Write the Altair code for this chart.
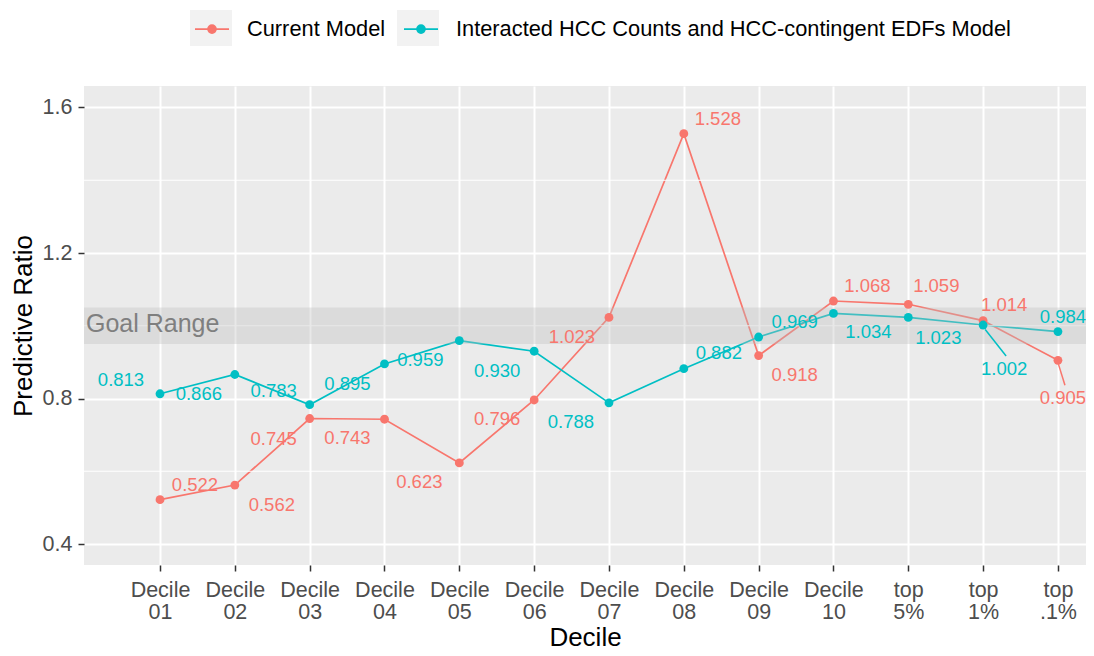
import json
import altair as alt
import pandas as pd

# ---------------- data ----------------
categories = ["Decile\n01", "Decile\n02", "Decile\n03", "Decile\n04", "Decile\n05",
              "Decile\n06", "Decile\n07", "Decile\n08", "Decile\n09", "Decile\n10",
              "top\n5%", "top\n1%", "top\n.1%"]
series_names = ["Current Model", "Interacted HCC Counts and HCC-contingent EDFs Model"]
current_values = [0.522, 0.562, 0.745, 0.743, 0.623, 0.796, 1.023, 1.528, 0.918,
                  1.068, 1.059, 1.014, 0.905]
interacted_values = [0.813, 0.866, 0.783, 0.895, 0.959, 0.930, 0.788, 0.882, 0.969,
                     1.034, 1.023, 1.002, 0.984]
y_breaks = [0.4, 0.8, 1.2, 1.6]
y_minor = [0.6, 1.0, 1.4]
goal_range = [0.95, 1.05]
goal_label = "Goal Range"

# label placement (pixel nudges, imitating ggrepel)
current_nudge = [(35, -15), (37, 20), (-36, 20), (-37, 19), (-40, 19), (-37, 19), (-37, 20),
                 (34, -15), (36, 19), (34, -15), (28, -18), (21, -16), (5, 38)]
interacted_nudge = [(-39, -14), (-36, 20), (-36, -14), (-37, 20), (-39, 19), (-37, 20), (-38, 19),
                    (35, -16), (36, -15), (35, 19), (30, 21), (21, 44), (5, -15)]

# ---------------- layout ----------------
W, H = 1002, 479
X_MIN, X_MAX = -0.0157, 13.375
Y_MIN, Y_MAX = 0.3423, 1.6591
PX_X = W / (X_MAX - X_MIN)
PX_Y = H / (Y_MAX - Y_MIN)
FONT = "Liberation Sans"
COLORS = ["#F8766D", "#00BFC4"]
BG_PREFIX = "bg:"

rows = []
for name, vals, nudges in [(series_names[0], current_values, current_nudge),
                           (series_names[1], interacted_values, interacted_nudge)]:
    for i, (v, (dx, dy)) in enumerate(zip(vals, nudges)):
        lx = i + 1 + dx / PX_X
        ly = v - dy / PX_Y
        seg = abs(dy) > 30
        rows.append(dict(idx=i + 1, value=v, series=name, series_bg=BG_PREFIX + name,
                         label=f"{v:.3f}", lx=lx, ly=ly, seg=seg,
                         sx=i + 1 + 0.1 * dx / PX_X, sy=v - 0.1 * dy / PX_Y,
                         ex=lx + 2 / PX_X, ey=ly + 13 / PX_Y))
df = pd.DataFrame(rows)

xscale = alt.Scale(domain=[X_MIN, X_MAX], nice=False, zero=False)
yscale = alt.Scale(domain=[Y_MIN, Y_MAX], nice=False, zero=False)
cscale = alt.Scale(domain=series_names, range=COLORS)

label_arr = json.dumps([c.replace("\n", "|") for c in categories])
x_axis = alt.Axis(values=list(range(1, 14)), labelExpr=f"split({label_arr}[datum.value - 1], '|')",
                  title="Decile", grid=True, gridColor="white", gridWidth=2, domain=False,
                  tickColor="#333333", tickSize=6, tickWidth=1.5, labelPadding=8,
                  labelLineHeight=22, labelFont=FONT, labelFontSize=21.5, labelColor="#4D4D4D",
                  titleFont=FONT, titleFontSize=26, titleFontWeight="normal", titleColor="black",
                  titlePadding=2)
y_axis = alt.Axis(values=y_breaks, format=".1f", title="Predictive Ratio", grid=True,
                  gridColor="white", gridWidth=2, domain=False, tickColor="#333333",
                  tickSize=6, tickWidth=1.5, labelPadding=6, labelFont=FONT, labelFontSize=21.5,
                  labelColor="#4D4D4D", titleFont=FONT, titleFontSize=26,
                  titleFontWeight="normal", titleColor="black", titlePadding=6)

base = alt.Chart(df)

minor = alt.Chart(pd.DataFrame({"v": y_minor})).mark_rule(color="white", strokeWidth=1).encode(
    y=alt.Y("v:Q", scale=yscale))

band = alt.Chart(pd.DataFrame({"lo": [goal_range[0]], "hi": [goal_range[1]]})).mark_rect(
    color="#BEBEBE", opacity=0.35).encode(
    y=alt.Y("lo:Q", scale=yscale), y2="hi:Q")

goal_text = alt.Chart(pd.DataFrame({"t": [goal_label], "y": [sum(goal_range) / 2],
                                    "x": [X_MIN]})).mark_text(
    align="left", baseline="middle", dx=2, dy=-2, font=FONT, fontSize=25, color="#7F7F7F").encode(
    x=alt.X("x:Q", scale=xscale), y=alt.Y("y:Q", scale=yscale), text="t:N")

# legend keys: line + point (foreground) over a light grey key box (background legend)
symbol_path = "M-0.81,0L0.81,0M0.19,0A0.19,0.19,0,1,1,-0.19,0A0.19,0.19,0,1,1,0.19,0Z"
box_path = "M-1,-0.857L1,-0.857L1,0.857L-1,0.857Z"
LEG = dict(orient="none", legendX=106, legendY=-79, direction="horizontal", title=None,
           padding=0, symbolSize=1764, symbolOpacity=1, labelFont=FONT, labelFontSize=21.8,
           labelColor="black", labelOffset=13, columnPadding=13, labelLimit=800)


def make_legend():
    return alt.Legend(symbolType=symbol_path, symbolStrokeWidth=1.7, zindex=2, **LEG)


bg_legend = alt.Legend(symbolStrokeWidth=0, labelOpacity=0, zindex=1,
                       labelExpr=f"slice(datum.label, {len(BG_PREFIX)})", **LEG)

bg_layer = base.mark_point(filled=True, color="#F2F2F2", opacity=0, size=10).encode(
    x=alt.X("idx:Q", scale=xscale), y=alt.Y("value:Q", scale=yscale),
    shape=alt.Shape("series_bg:N",
                    scale=alt.Scale(domain=[BG_PREFIX + s for s in series_names],
                                    range=[box_path, box_path]),
                    legend=bg_legend))

lines = base.mark_line(strokeWidth=1.7).encode(
    x=alt.X("idx:Q", scale=xscale, axis=x_axis),
    y=alt.Y("value:Q", scale=yscale, axis=y_axis),
    stroke=alt.Stroke("series:N", scale=cscale, legend=make_legend(), sort=series_names),
    detail="series:N")

segs = base.transform_filter("datum.seg").mark_rule(strokeWidth=1.5).encode(
    x=alt.X("sx:Q", scale=xscale), y=alt.Y("sy:Q", scale=yscale), x2="ex:Q", y2="ey:Q",
    stroke=alt.Stroke("series:N", scale=cscale, legend=make_legend(), sort=series_names))

points = base.mark_point(filled=True, size=78, opacity=1, strokeWidth=0).encode(
    x=alt.X("idx:Q", scale=xscale), y=alt.Y("value:Q", scale=yscale),
    fill=alt.Fill("series:N", scale=cscale, legend=make_legend(), sort=series_names),
    shape=alt.value("circle"))

texts = base.mark_text(font=FONT, fontSize=18.5, baseline="middle", align="center").encode(
    x=alt.X("lx:Q", scale=xscale), y=alt.Y("ly:Q", scale=yscale), text="label:N",
    fill=alt.Fill("series:N", scale=cscale, legend=make_legend(), sort=series_names))

chart = alt.layer(lines, bg_layer, minor, band, goal_text, segs, points, texts).properties(
    width=W, height=H,
    autosize=alt.AutoSizeParams(type="none"),
    padding={"left": 76, "top": 78, "right": 0, "bottom": 82},
    background="white",
).configure_view(fill="#EBEBEB", strokeWidth=0)

chart.save("out.html", embed_options={"renderer": "svg", "actions": False})
